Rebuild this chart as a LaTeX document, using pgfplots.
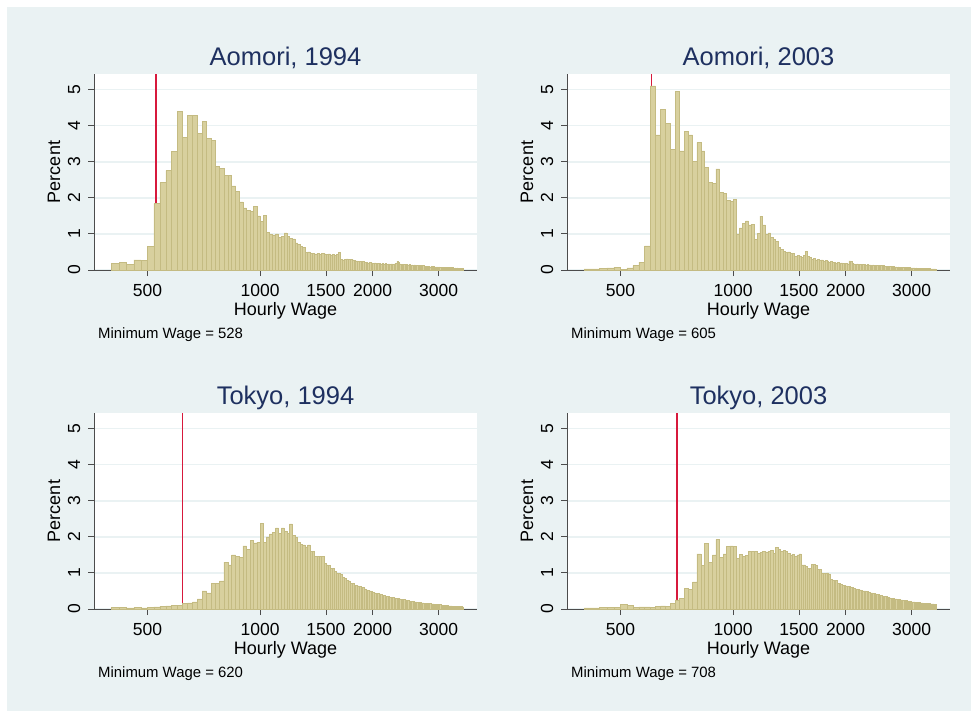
\documentclass[border=0pt]{standalone}
\usepackage{pgfplots}
\pgfplotsset{compat=1.18}
\usepackage{pgfplotstable}
\usepackage{fontspec}
\setmainfont{Liberation Sans}
\definecolor{bgc}{RGB}{234,242,243}
\definecolor{barfill}{RGB}{216,208,158}
\definecolor{barline}{RGB}{196,187,130}
\definecolor{titlec}{RGB}{30,48,96}
\definecolor{mwred}{RGB}{215,25,60}

\pgfplotstableread[row sep=\\]{
w p\\
400 0.19\\ 420 0.22\\ 440 0.16\\ 460 0.28\\ 480 0.26\\
500 0.66\\ 520 1.84\\ 540 2.42\\ 560 2.75\\ 580 3.28\\
600 4.39\\ 620 3.67\\ 640 4.28\\ 660 4.28\\ 680 3.79\\
700 4.11\\ 720 3.65\\ 740 3.60\\ 760 2.88\\ 780 2.82\\
800 2.63\\ 820 2.63\\ 840 2.33\\ 860 2.17\\ 880 1.89\\
900 1.72\\ 920 1.66\\ 940 1.62\\ 960 1.77\\ 980 1.50\\
1000 1.35\\ 1020 1.51\\ 1040 1.05\\ 1060 0.98\\ 1080 0.96\\
1100 1.00\\ 1120 0.91\\ 1140 0.93\\ 1160 1.03\\ 1180 0.93\\
1200 0.88\\ 1220 0.86\\ 1240 0.75\\ 1260 0.72\\ 1280 0.66\\
1300 0.62\\ 1320 0.49\\ 1340 0.50\\ 1360 0.46\\ 1380 0.47\\
1400 0.45\\ 1420 0.47\\ 1440 0.44\\ 1460 0.46\\ 1480 0.45\\
1500 0.43\\ 1520 0.45\\ 1540 0.42\\ 1560 0.44\\ 1580 0.41\\
1600 0.43\\ 1620 0.48\\ 1640 0.29\\ 1660 0.28\\ 1680 0.30\\
1700 0.31\\ 1720 0.29\\ 1740 0.30\\ 1760 0.28\\ 1780 0.27\\
1800 0.25\\ 1820 0.24\\ 1840 0.23\\ 1860 0.22\\ 1880 0.23\\
1900 0.21\\ 1920 0.22\\ 1940 0.20\\ 1960 0.21\\ 1980 0.20\\
2000 0.19\\ 2020 0.20\\ 2040 0.18\\ 2060 0.19\\ 2080 0.18\\
2100 0.17\\ 2120 0.18\\ 2140 0.17\\ 2160 0.18\\ 2180 0.16\\
2200 0.17\\ 2220 0.16\\ 2240 0.17\\ 2260 0.16\\ 2280 0.17\\
2300 0.18\\ 2320 0.24\\ 2340 0.22\\ 2360 0.17\\ 2380 0.15\\
2400 0.16\\ 2420 0.15\\ 2440 0.14\\ 2460 0.15\\ 2480 0.14\\
2500 0.15\\ 2520 0.13\\ 2540 0.14\\ 2560 0.13\\ 2580 0.14\\
2600 0.12\\ 2620 0.13\\ 2640 0.12\\ 2660 0.11\\ 2680 0.12\\
2700 0.11\\ 2720 0.12\\ 2740 0.10\\ 2760 0.11\\ 2780 0.10\\
2800 0.11\\ 2820 0.10\\ 2840 0.09\\ 2860 0.10\\ 2880 0.09\\
2900 0.10\\ 2920 0.09\\ 2940 0.08\\ 2960 0.09\\ 2980 0.08\\
3000 0.09\\ 3020 0.08\\ 3040 0.08\\ 3060 0.07\\ 3080 0.08\\
3100 0.07\\ 3120 0.08\\ 3140 0.07\\ 3160 0.06\\ 3180 0.07\\
3200 0.06\\ 3220 0.07\\ 3240 0.06\\ 3260 0.07\\ 3280 0.06\\
3300 0.05\\ 3320 0.06\\ 3340 0.05\\ 3360 0.06\\ 3380 0.05\\
3400 0.05\\ 3420 0.04\\ 3440 0.05\\ 3460 0.04\\ 3480 0.04\\
3500 0.04\\
}\tabA

\pgfplotstableread[row sep=\\]{
w p\\
400 0.03\\ 420 0.03\\ 440 0.04\\ 460 0.06\\ 480 0.07\\
500 0.02\\ 520 0.06\\ 540 0.12\\ 560 0.22\\ 580 0.67\\
600 5.10\\ 620 3.74\\ 640 4.45\\ 660 4.06\\ 680 3.35\\
700 4.94\\ 720 3.30\\ 740 3.85\\ 760 3.74\\ 780 3.00\\
800 3.53\\ 820 3.30\\ 840 2.85\\ 860 2.42\\ 880 2.40\\
900 2.80\\ 920 2.15\\ 940 2.13\\ 960 1.92\\ 980 1.90\\
1000 1.95\\ 1020 1.00\\ 1040 1.17\\ 1060 1.30\\ 1080 1.36\\
1100 1.25\\ 1120 1.26\\ 1140 0.85\\ 1160 1.02\\ 1180 1.49\\
1200 1.25\\ 1220 1.00\\ 1240 1.03\\ 1260 0.90\\ 1280 0.85\\
1300 0.80\\ 1320 0.63\\ 1340 0.58\\ 1360 0.52\\ 1380 0.48\\
1400 0.50\\ 1420 0.47\\ 1440 0.46\\ 1460 0.38\\ 1480 0.40\\
1500 0.37\\ 1520 0.36\\ 1540 0.40\\ 1560 0.52\\ 1580 0.38\\
1600 0.34\\ 1620 0.30\\ 1640 0.33\\ 1660 0.28\\ 1680 0.29\\
1700 0.27\\ 1720 0.28\\ 1740 0.24\\ 1760 0.26\\ 1780 0.23\\
1800 0.22\\ 1820 0.24\\ 1840 0.21\\ 1860 0.22\\ 1880 0.20\\
1900 0.21\\ 1920 0.19\\ 1940 0.20\\ 1960 0.19\\ 1980 0.18\\
2000 0.19\\ 2020 0.17\\ 2040 0.25\\ 2060 0.24\\ 2080 0.18\\
2100 0.17\\ 2120 0.16\\ 2140 0.17\\ 2160 0.16\\ 2180 0.15\\
2200 0.16\\ 2220 0.15\\ 2240 0.15\\ 2260 0.14\\ 2280 0.15\\
2300 0.14\\ 2320 0.14\\ 2340 0.13\\ 2360 0.14\\ 2380 0.13\\
2400 0.13\\ 2420 0.12\\ 2440 0.13\\ 2460 0.12\\ 2480 0.12\\
2500 0.11\\ 2520 0.12\\ 2540 0.11\\ 2560 0.11\\ 2580 0.10\\
2600 0.11\\ 2620 0.10\\ 2640 0.10\\ 2660 0.09\\ 2680 0.10\\
2700 0.09\\ 2720 0.09\\ 2740 0.08\\ 2760 0.09\\ 2780 0.08\\
2800 0.08\\ 2820 0.08\\ 2840 0.07\\ 2860 0.08\\ 2880 0.07\\
2900 0.07\\ 2920 0.07\\ 2940 0.06\\ 2960 0.07\\ 2980 0.06\\
3000 0.06\\ 3020 0.06\\ 3040 0.06\\ 3060 0.05\\ 3080 0.06\\
3100 0.05\\ 3120 0.05\\ 3140 0.05\\ 3160 0.05\\ 3180 0.04\\
3200 0.05\\ 3220 0.04\\ 3240 0.04\\ 3260 0.04\\ 3280 0.04\\
3300 0.04\\ 3320 0.03\\ 3340 0.04\\ 3360 0.03\\ 3380 0.03\\
3400 0.03\\ 3420 0.03\\ 3440 0.03\\ 3460 0.03\\ 3480 0.02\\
3500 0.02\\
}\tabB

\pgfplotstableread[row sep=\\]{
w p\\
400 0.05\\ 420 0.04\\ 440 0.03\\ 460 0.04\\ 480 0.03\\
500 0.05\\ 520 0.06\\ 540 0.07\\ 560 0.09\\ 580 0.10\\
600 0.10\\ 620 0.15\\ 640 0.17\\ 660 0.20\\ 680 0.28\\
700 0.50\\ 720 0.45\\ 740 0.70\\ 760 0.72\\ 780 0.78\\
800 1.30\\ 820 1.22\\ 840 1.50\\ 860 1.45\\ 880 1.43\\
900 1.75\\ 920 1.65\\ 940 1.90\\ 960 1.83\\ 980 1.85\\
1000 2.37\\ 1020 1.85\\ 1040 2.00\\ 1060 2.08\\ 1080 2.12\\
1100 2.25\\ 1120 2.10\\ 1140 2.25\\ 1160 2.15\\ 1180 2.10\\
1200 2.36\\ 1220 2.05\\ 1240 1.98\\ 1260 1.85\\ 1280 1.80\\
1300 1.78\\ 1320 1.72\\ 1340 1.78\\ 1360 1.60\\ 1380 1.60\\
1400 1.45\\ 1420 1.45\\ 1440 1.45\\ 1460 1.46\\ 1480 1.26\\
1500 1.22\\ 1520 1.20\\ 1540 1.12\\ 1560 1.12\\ 1580 1.05\\
1600 1.00\\ 1620 0.98\\ 1640 0.95\\ 1660 0.88\\ 1680 0.85\\
1700 0.80\\ 1720 0.78\\ 1740 0.72\\ 1760 0.70\\ 1780 0.66\\
1800 0.66\\ 1820 0.64\\ 1840 0.62\\ 1860 0.60\\ 1880 0.60\\
1900 0.56\\ 1920 0.53\\ 1940 0.52\\ 1960 0.50\\ 1980 0.48\\
2000 0.46\\ 2020 0.45\\ 2040 0.44\\ 2060 0.43\\ 2080 0.42\\
2100 0.40\\ 2120 0.38\\ 2140 0.37\\ 2160 0.36\\ 2180 0.35\\
2200 0.34\\ 2220 0.33\\ 2240 0.33\\ 2260 0.32\\ 2280 0.31\\
2300 0.30\\ 2320 0.29\\ 2340 0.29\\ 2360 0.28\\ 2380 0.27\\
2400 0.26\\ 2420 0.26\\ 2440 0.25\\ 2460 0.24\\ 2480 0.23\\
2500 0.22\\ 2520 0.22\\ 2540 0.21\\ 2560 0.21\\ 2580 0.20\\
2600 0.20\\ 2620 0.19\\ 2640 0.19\\ 2660 0.18\\ 2680 0.18\\
2700 0.17\\ 2720 0.17\\ 2740 0.16\\ 2760 0.16\\ 2780 0.16\\
2800 0.15\\ 2820 0.15\\ 2840 0.15\\ 2860 0.14\\ 2880 0.14\\
2900 0.14\\ 2920 0.13\\ 2940 0.13\\ 2960 0.13\\ 2980 0.12\\
3000 0.12\\ 3020 0.12\\ 3040 0.11\\ 3060 0.11\\ 3080 0.11\\
3100 0.10\\ 3120 0.10\\ 3140 0.10\\ 3160 0.10\\ 3180 0.09\\
3200 0.09\\ 3220 0.09\\ 3240 0.09\\ 3260 0.08\\ 3280 0.08\\
3300 0.08\\ 3320 0.08\\ 3340 0.08\\ 3360 0.07\\ 3380 0.07\\
3400 0.07\\ 3420 0.07\\ 3440 0.07\\ 3460 0.06\\ 3480 0.06\\
3500 0.06\\
}\tabC

\pgfplotstableread[row sep=\\]{
w p\\
400 0.03\\ 420 0.03\\ 440 0.04\\ 460 0.04\\ 480 0.05\\
500 0.12\\ 520 0.10\\ 540 0.04\\ 560 0.06\\ 580 0.06\\
600 0.05\\ 620 0.07\\ 640 0.09\\ 660 0.08\\ 680 0.15\\
700 0.25\\ 720 0.30\\ 740 0.57\\ 760 0.55\\ 780 0.75\\
800 1.53\\ 820 1.20\\ 840 1.82\\ 860 1.30\\ 880 1.50\\
900 1.92\\ 920 1.43\\ 940 1.53\\ 960 1.73\\ 980 1.75\\
1000 1.74\\ 1020 1.41\\ 1040 1.52\\ 1060 1.45\\ 1080 1.48\\
1100 1.60\\ 1120 1.60\\ 1140 1.60\\ 1160 1.55\\ 1180 1.57\\
1200 1.60\\ 1220 1.58\\ 1240 1.60\\ 1260 1.62\\ 1280 1.55\\
1300 1.71\\ 1320 1.66\\ 1340 1.60\\ 1360 1.62\\ 1380 1.60\\
1400 1.55\\ 1420 1.50\\ 1440 1.52\\ 1460 1.45\\ 1480 1.50\\
1500 1.53\\ 1520 1.22\\ 1540 1.22\\ 1560 1.18\\ 1580 1.13\\
1600 1.13\\ 1620 1.24\\ 1640 1.24\\ 1660 1.20\\ 1680 1.10\\
1700 1.10\\ 1720 0.99\\ 1740 0.99\\ 1760 0.99\\ 1780 1.00\\
1800 0.97\\ 1820 0.82\\ 1840 0.80\\ 1860 0.78\\ 1880 0.80\\
1900 0.72\\ 1920 0.70\\ 1940 0.68\\ 1960 0.66\\ 1980 0.65\\
2000 0.64\\ 2020 0.62\\ 2040 0.62\\ 2060 0.60\\ 2080 0.60\\
2100 0.58\\ 2120 0.56\\ 2140 0.55\\ 2160 0.54\\ 2180 0.53\\
2200 0.52\\ 2220 0.50\\ 2240 0.50\\ 2260 0.49\\ 2280 0.48\\
2300 0.46\\ 2320 0.45\\ 2340 0.45\\ 2360 0.44\\ 2380 0.43\\
2400 0.42\\ 2420 0.40\\ 2440 0.40\\ 2460 0.38\\ 2480 0.37\\
2500 0.36\\ 2520 0.35\\ 2540 0.34\\ 2560 0.34\\ 2580 0.33\\
2600 0.32\\ 2620 0.31\\ 2640 0.30\\ 2660 0.30\\ 2680 0.29\\
2700 0.28\\ 2720 0.28\\ 2740 0.27\\ 2760 0.26\\ 2780 0.26\\
2800 0.25\\ 2820 0.25\\ 2840 0.24\\ 2860 0.24\\ 2880 0.23\\
2900 0.23\\ 2920 0.22\\ 2940 0.22\\ 2960 0.21\\ 2980 0.21\\
3000 0.20\\ 3020 0.20\\ 3040 0.20\\ 3060 0.19\\ 3080 0.19\\
3100 0.18\\ 3120 0.18\\ 3140 0.18\\ 3160 0.17\\ 3180 0.17\\
3200 0.17\\ 3220 0.16\\ 3240 0.16\\ 3260 0.16\\ 3280 0.15\\
3300 0.15\\ 3320 0.15\\ 3340 0.15\\ 3360 0.14\\ 3380 0.14\\
3400 0.14\\ 3420 0.14\\ 3440 0.13\\ 3460 0.13\\ 3480 0.13\\
3500 0.13\\
}\tabD

\pgfplotsset{
  mypanel/.style={
    scale only axis, width=383pt, height=196pt,
    xmin=360, xmax=3800, ymin=0, ymax=5.43,
    axis x line*=bottom, axis y line*=left,
    axis line style={black!70, line width=0.9pt},
    xtick={500,1000,1500,2000,3000},
    xticklabels={500,1000,1500,2000,3000},
    xminorticks=false, yminorticks=false,
    ytick={0,1,2,3,4,5}, yticklabels={0,1,2,3,4,5},
    tick align=outside, major tick length=6pt,
    tick style={black!70, line width=0.9pt},
    ymajorgrids, grid style={bgc, line width=1.6pt},
    axis background/.style={fill=white},
    xticklabel style={anchor=base, yshift=-20.5pt, font=\fontsize{17.5}{20}\selectfont},
    yticklabel style={font=\fontsize{17.5}{20}\selectfont, xshift=-8pt, rotate=90, anchor=base},
    xlabel={Hourly Wage},
    xlabel style={at={(axis description cs:0.5,0)}, anchor=base, yshift=-45pt, font=\fontsize{18}{21}\selectfont},
    ylabel={Percent},
    ylabel style={at={(axis description cs:-0.0888,0.5)}, anchor=base, font=\fontsize{18}{21}\selectfont},
    title style={at={(axis description cs:0.5,1)}, anchor=base, yshift=2.5pt, font=\fontsize{25.5}{30}\selectfont, text=titlec},
  },
  mybars/.style={ybar interval, fill=barfill, draw=barline, line width=0.5pt},
  mymw/.style={color=mwred, line width=1.6pt},
}
\tikzset{mynote/.style={anchor=base west, inner sep=0pt, font=\fontsize{14.9}{17}\selectfont}}

\begin{document}
\begin{tikzpicture}
\fill[white] (0pt,0pt) rectangle (971pt,-711pt);
\fill[bgc] (7pt,-7pt) rectangle (971pt,-711pt);

\begin{axis}[xmode=log, mypanel, at={(94pt,-270pt)}, anchor=south west, title={Aomori, 1994}]
\addplot[mymw] coordinates {(528,0) (528,5.43)};
\addplot[mybars] table[x=w,y=p] {\tabA};
\end{axis}

\begin{axis}[xmode=log, mypanel, at={(567pt,-270pt)}, anchor=south west, title={Aomori, 2003}]
\addplot[mymw] coordinates {(605,0) (605,5.43)};
\addplot[mybars] table[x=w,y=p] {\tabB};
\end{axis}

\begin{axis}[xmode=log, mypanel, at={(94pt,-609pt)}, anchor=south west, title={Tokyo, 1994}]
\addplot[mymw] coordinates {(620,0) (620,5.43)};
\addplot[mybars] table[x=w,y=p] {\tabC};
\end{axis}

\begin{axis}[xmode=log, mypanel, at={(567pt,-609pt)}, anchor=south west, title={Tokyo, 2003}]
\addplot[mymw] coordinates {(708,0) (708,5.43)};
\addplot[mybars] table[x=w,y=p] {\tabD};
\end{axis}

\node[mynote] at (98pt,-338pt) {Minimum Wage = 528};
\node[mynote] at (571pt,-338pt) {Minimum Wage = 605};
\node[mynote] at (98pt,-677pt) {Minimum Wage = 620};
\node[mynote] at (571pt,-677pt) {Minimum Wage = 708};
\end{tikzpicture}
\end{document}
